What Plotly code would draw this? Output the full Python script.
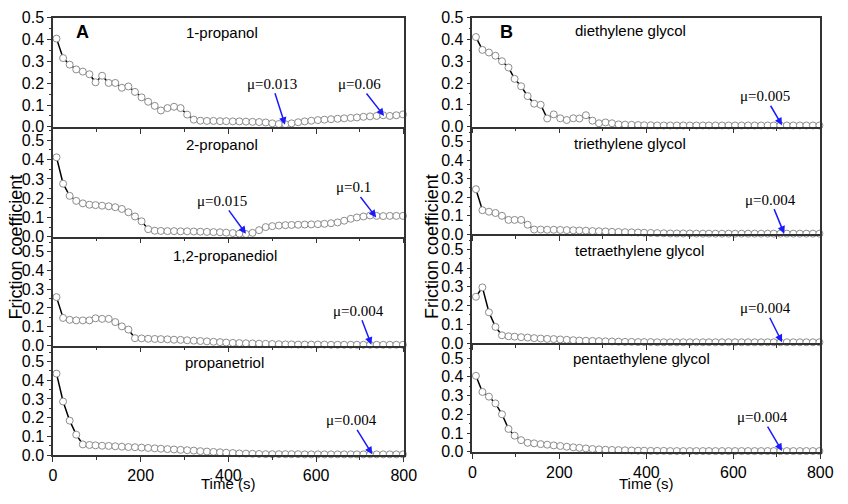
import plotly.graph_objects as go

# sampling times (s)
time_s = [8, 23, 38, 53, 68, 83, 97, 112, 127, 142, 157, 172, 187, 202, 217, 232, 246, 261,
          276, 291, 306, 321, 336, 351, 366, 381, 395, 410, 425, 440, 455, 470, 485, 500,
          515, 530, 544, 559, 574, 589, 604, 619, 634, 649, 664, 679, 693, 708, 723, 738,
          753, 768, 783, 798]

# friction coefficient
propanol_1 = [0.404, 0.315, 0.285, 0.263, 0.253, 0.241, 0.204, 0.234, 0.201, 0.201,
              0.179, 0.185, 0.160, 0.135, 0.115, 0.096, 0.075, 0.086, 0.092, 0.086,
              0.056, 0.033, 0.028, 0.027, 0.027, 0.026, 0.026, 0.025, 0.025, 0.024,
              0.023, 0.022, 0.020, 0.016, 0.013, 0.012, 0.016, 0.021, 0.025, 0.028,
              0.031, 0.033, 0.035, 0.037, 0.039, 0.041, 0.043, 0.046, 0.048, 0.050,
              0.053, 0.050, 0.053, 0.057]
propanol_2 = [0.412, 0.275, 0.212, 0.186, 0.173, 0.166, 0.164, 0.161, 0.158, 0.153,
              0.144, 0.127, 0.105, 0.080, 0.039, 0.031, 0.030, 0.029, 0.029, 0.028,
              0.028, 0.027, 0.026, 0.025, 0.024, 0.023, 0.021, 0.019, 0.016, 0.014,
              0.020, 0.034, 0.050, 0.055, 0.058, 0.060, 0.061, 0.062, 0.063, 0.064,
              0.065, 0.067, 0.070, 0.074, 0.083, 0.093, 0.100, 0.105, 0.110, 0.108,
              0.107, 0.108, 0.108, 0.108]
propanediol = [0.258, 0.147, 0.137, 0.134, 0.134, 0.134, 0.145, 0.142, 0.142, 0.125,
               0.102, 0.085, 0.039, 0.038, 0.036, 0.035, 0.034, 0.033, 0.031, 0.030,
               0.028, 0.026, 0.024, 0.022, 0.020, 0.018, 0.016, 0.014, 0.013, 0.012,
               0.011, 0.010, 0.009, 0.008, 0.007, 0.006, 0.006, 0.005, 0.005, 0.005,
               0.005, 0.005, 0.004, 0.004, 0.004, 0.004, 0.004, 0.004, 0.004, 0.004,
               0.004, 0.004, 0.004, 0.004]
propanetriol = [0.435, 0.286, 0.184, 0.109, 0.057, 0.054, 0.052, 0.050, 0.049, 0.047,
                0.045, 0.043, 0.042, 0.040, 0.038, 0.036, 0.034, 0.032, 0.030, 0.028,
                0.026, 0.024, 0.021, 0.019, 0.017, 0.015, 0.013, 0.011, 0.009, 0.008,
                0.007, 0.006, 0.005, 0.005, 0.005, 0.005, 0.005, 0.005, 0.004, 0.004,
                0.004, 0.004, 0.004, 0.004, 0.004, 0.004, 0.004, 0.004, 0.004, 0.004,
                0.004, 0.004, 0.004, 0.004]
diethylene = [0.411, 0.352, 0.340, 0.325, 0.300, 0.271, 0.219, 0.185, 0.140, 0.105,
              0.100, 0.037, 0.056, 0.038, 0.030, 0.038, 0.037, 0.052, 0.027, 0.015,
              0.019, 0.015, 0.010, 0.009, 0.008, 0.007, 0.006, 0.006, 0.005, 0.005,
              0.005, 0.005, 0.005, 0.005, 0.005, 0.005, 0.005, 0.005, 0.005, 0.005,
              0.005, 0.005, 0.005, 0.005, 0.005, 0.005, 0.005, 0.005, 0.005, 0.005,
              0.005, 0.005, 0.005, 0.005]
triethylene = [0.243, 0.130, 0.122, 0.115, 0.100, 0.078, 0.078, 0.078, 0.052, 0.026,
               0.026, 0.025, 0.025, 0.024, 0.023, 0.022, 0.021, 0.020, 0.018, 0.017,
               0.016, 0.014, 0.013, 0.012, 0.011, 0.010, 0.009, 0.008, 0.007, 0.006,
               0.005, 0.005, 0.005, 0.005, 0.004, 0.004, 0.004, 0.004, 0.004, 0.004,
               0.004, 0.004, 0.004, 0.004, 0.004, 0.004, 0.004, 0.004, 0.004, 0.004,
               0.004, 0.004, 0.004, 0.004]
tetraethylene = [0.247, 0.297, 0.164, 0.086, 0.041, 0.036, 0.034, 0.031, 0.029, 0.026,
                 0.024, 0.022, 0.021, 0.019, 0.017, 0.015, 0.013, 0.012, 0.011, 0.010,
                 0.009, 0.008, 0.007, 0.006, 0.006, 0.005, 0.005, 0.005, 0.004, 0.004,
                 0.004, 0.004, 0.004, 0.004, 0.004, 0.004, 0.004, 0.004, 0.004, 0.004,
                 0.004, 0.004, 0.004, 0.004, 0.004, 0.004, 0.004, 0.004, 0.004, 0.004,
                 0.004, 0.004, 0.004, 0.004]
pentaethylene = [0.405, 0.319, 0.294, 0.258, 0.200, 0.122, 0.086, 0.062, 0.048, 0.045,
                 0.041, 0.038, 0.034, 0.031, 0.027, 0.024, 0.021, 0.018, 0.015, 0.013,
                 0.011, 0.010, 0.009, 0.008, 0.007, 0.006, 0.006, 0.005, 0.005, 0.005,
                 0.004, 0.004, 0.004, 0.004, 0.004, 0.004, 0.004, 0.004, 0.004, 0.004,
                 0.004, 0.004, 0.004, 0.004, 0.004, 0.004, 0.004, 0.004, 0.004, 0.004,
                 0.004, 0.004, 0.004, 0.004]

names = ["1-propanol", "2-propanol", "1,2-propanediol", "propanetriol",
         "diethylene glycol", "triethylene glycol", "tetraethylene glycol", "pentaethylene glycol"]
series = [propanol_1, propanol_2, propanediol, propanetriol,
          diethylene, triethylene, tetraethylene, pentaethylene]
y_max = [0.5, 0.57, 0.58, 0.585, 0.5, 0.58, 0.58, 0.58]

# arrow labels: (panel, text, time, value, ax, ay)
mu_labels = [
    (0, "μ=0.013", 529, 0.010, -13, -41),
    (0, "μ=0.06", 755, 0.050, -25, -32),
    (1, "μ=0.015", 440, 0.015, -24, -33),
    (1, "μ=0.1", 737, 0.100, -23, -30),
    (2, "μ=0.004", 726, 0.004, -13, -34),
    (3, "μ=0.004", 728, 0.004, -21, -34),
    (4, "μ=0.005", 712, 0.006, -17, -29),
    (5, "μ=0.004", 717, 0.004, -14, -34),
    (6, "μ=0.004", 712, 0.004, -17, -34),
    (7, "μ=0.004", 712, 0.004, -20, -34),
]

W, H = 848, 504
# panel edges in pixels
col_x = [(50, 408), (478, 833)]
col_rows = [[10, 123, 236.7, 349.3, 462.7], [10, 122.7, 234.3, 346.7, 459.3]]
title_pos = [(0.482, 0.867), (0.482, 0.836), (0.49, 0.824), (0.49, 0.846),
             (0.454, 0.88), (0.454, 0.84), (0.479, 0.85), (0.486, 0.86)]

sans = "Liberation Sans, Arial, sans-serif"
serif = "Liberation Serif, Times New Roman, serif"
axis_color = "#333333"

fig = go.Figure()
layout = dict(width=W, height=H, margin=dict(l=0, r=0, t=0, b=0),
              paper_bgcolor="white", plot_bgcolor="white", showlegend=False,
              font=dict(family=sans, size=15, color="black"))
annotations = []

for k in range(8):
    col, row = divmod(k, 4)
    n = k + 1
    xa = "x" if n == 1 else "x%d" % n
    ya = "y" if n == 1 else "y%d" % n
    x0, x1 = col_x[col]
    top, bot = col_rows[col][row], col_rows[col][row + 1]
    fig.add_trace(go.Scatter(
        x=time_s, y=series[k], xaxis=xa, yaxis=ya, mode="lines+markers",
        line=dict(color="black", width=1.5),
        marker=dict(symbol="circle", size=7, color="white",
                    line=dict(color="#8c8c8c", width=1)),
        cliponaxis=False))
    layout["xaxis" if n == 1 else "xaxis%d" % n] = dict(
        domain=[x0 / W, x1 / W], anchor=ya, range=[0, 800],
        tickvals=[0, 200, 400, 600, 800], showticklabels=(row == 3),
        ticks="outside", ticklen=5, tickwidth=1.2, tickcolor=axis_color,
        minor=dict(ticks="outside", ticklen=3, dtick=100, tick0=0, tickcolor=axis_color),
        showline=True, linecolor=axis_color, linewidth=1.5, mirror=(row == 0),
        showgrid=False, zeroline=False, tickfont=dict(size=16))
    layout["yaxis" if n == 1 else "yaxis%d" % n] = dict(
        domain=[1 - bot / H, 1 - top / H], anchor=xa, range=[0, y_max[k]],
        tick0=0, dtick=0.1, tickformat=".1f",
        ticks="outside", ticklen=4, tickwidth=1.2, tickcolor=axis_color,
        minor=dict(ticks="outside", ticklen=2, dtick=0.05, tick0=0, tickcolor=axis_color),
        showline=True, linecolor=axis_color, linewidth=1.5, mirror=True,
        showgrid=False, zeroline=False, tickfont=dict(size=16))
    tx, ty = title_pos[k]
    annotations.append(dict(text=names[k], xref=xa + " domain", yref=ya + " domain",
                            x=tx, y=ty, xanchor="center", yanchor="middle",
                            showarrow=False, font=dict(size=15)))

annotations.append(dict(text="<b>A</b>", xref="x domain", yref="y domain", x=0.084, y=0.867,
                        xanchor="center", yanchor="middle", showarrow=False,
                        font=dict(size=18)))
annotations.append(dict(text="<b>B</b>", xref="x5 domain", yref="y5 domain", x=0.097, y=0.867,
                        xanchor="center", yanchor="middle", showarrow=False,
                        font=dict(size=18)))

for panel, text, t, v, ax, ay in mu_labels:
    n = panel + 1
    annotations.append(dict(
        text=text, x=t, y=v, xref="x" if n == 1 else "x%d" % n,
        yref="y" if n == 1 else "y%d" % n, ax=ax, ay=ay, showarrow=True,
        arrowhead=2, arrowsize=1, arrowwidth=1.5, arrowcolor="#1a1aff", standoff=0,
        font=dict(family=serif, size=15, color="black")))

# shared axis titles
for cx in [12 / W, 436 / W]:
    annotations.append(dict(text="Friction coefficient", xref="paper", yref="paper",
                            x=cx, y=1 - 247 / H, xanchor="center", yanchor="middle",
                            textangle=-90, showarrow=False, font=dict(size=18)))
for (x0, x1) in col_x:
    annotations.append(dict(text="Time (s)", xref="paper", yref="paper",
                            x=(x0 + x1) / 2 / W, y=1 - 492 / H, xanchor="center",
                            yanchor="middle", showarrow=False, font=dict(size=15)))

layout["annotations"] = annotations
fig.update_layout(**layout)
fig.write_html("out.html", config={"displayModeBar": False},
               post_script="document.body.style.margin='0';"
                           "document.body.style.overflow='hidden';"
                           "document.documentElement.style.overflow='hidden';")
